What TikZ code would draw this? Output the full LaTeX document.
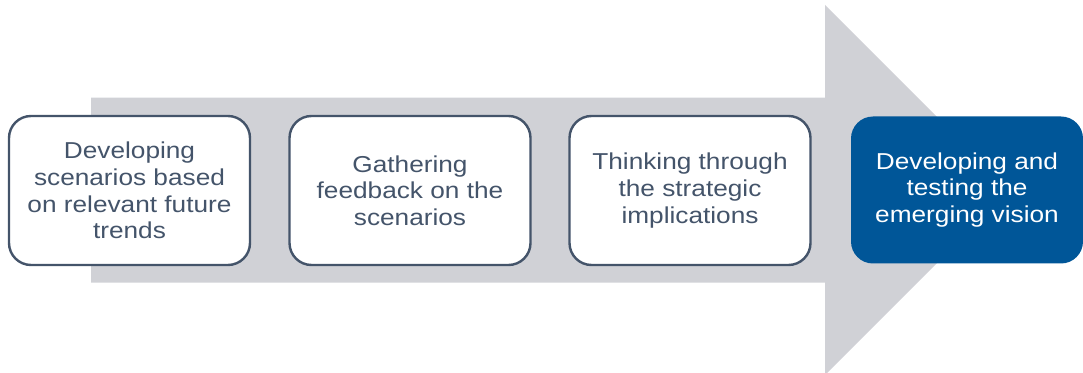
\documentclass[tikz,border=0pt]{standalone}
\usepackage{fontspec}
\setmainfont{Liberation Sans}
\usepackage{tikz}
\definecolor{arrowgray}{RGB}{208,209,214}
\definecolor{slate}{RGB}{68,84,106}
\definecolor{deepblue}{RGB}{0,86,152}

\begin{document}
\begin{tikzpicture}[x=1pt, y=1pt,
    stage/.style={draw=slate, line width=2.4pt, fill=white, text=slate,
        rounded corners=22pt, xscale=1.14, minimum width=211.4pt,
        minimum height=149pt, align=center,
        font=\fontsize{23}{26.7}\selectfont},
    laststage/.style={stage, draw=none, fill=deepblue, text=white,
        minimum width=203.5pt, minimum height=147pt}]
    \useasboundingbox (0,0) rectangle (1083,372);
    \begin{scope}
        \clip (0,0) rectangle (1083,372);
        \fill[arrowgray] (91,89.3) -- (91,274.3) -- (825,274.3) -- (825,367)
            -- (1010,182) -- (825,-3) -- (825,89.3) -- cycle;
        \node[stage] (scen) at (129.5,181.5) {Developing\\scenarios based\\on relevant future\\trends};
        \node[stage] (feed) at (410,181.5) {Gathering\\feedback on the\\scenarios};
        \node[stage] (impl) at (690,181.5) {Thinking through\\the strategic\\implications};
        \node[laststage] (vision) at (967,182) {Developing and\\testing the\\emerging vision};
    \end{scope}
\end{tikzpicture}
\end{document}
